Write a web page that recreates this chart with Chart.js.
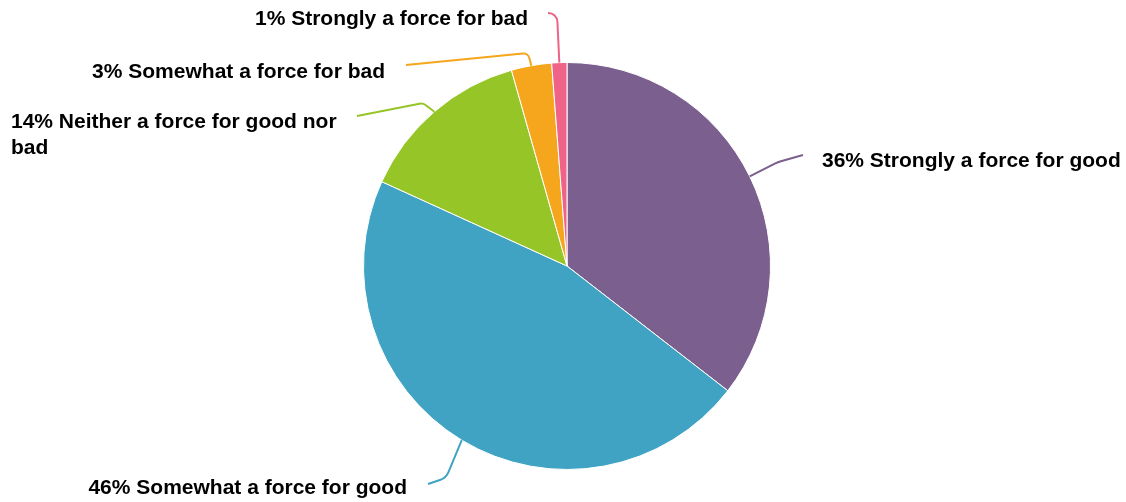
<!DOCTYPE html>
<html>
<head>
<meta charset="utf-8">
<script src="https://cdn.jsdelivr.net/npm/chart.js@4"></script>
<style>
  html, body { margin: 0; padding: 0; background: #fff; }
  #wrap { width: 1126px; height: 502px; }
</style>
</head>
<body>
<div id="wrap"><canvas id="chart"></canvas></div>
<script>
const categories = [
  "Strongly a force for good",
  "Somewhat a force for good",
  "Neither a force for good nor bad",
  "Somewhat a force for bad",
  "Strongly a force for bad"
]
const shares = [35.5, 46.3, 13.8, 3.2, 1.2]
const sliceColors = ["#7b5f8e", "#40a3c3", "#96c527", "#f5a61c", "#ee6387"]

// where each connector bends and ends, and where its text sits
const connectors = [
  { bend: [778, 162], end: [803, 155], r: 30, text: [822, 161], align: "left" },
  { bend: [446, 478], end: [428, 484], r: 14, text: [407, 488], align: "right" },
  { bend: [423, 103], end: [357, 116], r: 8, text: [11, 122], align: "left", lines: ["14% Neither a force for good nor", "bad"] },
  { bend: [528, 53], end: [406, 65], r: 6, text: [385, 72], align: "right" },
  { bend: [557, 13], end: [548, 13], r: 9, text: [528, 19], align: "right" }
]

Chart.defaults.font.family = "'Liberation Sans', Arial, sans-serif"

const labelPlugin = {
  id: "pieLabels",
  afterDatasetsDraw(chart) {
    const c = chart.ctx
    const arcs = chart.getDatasetMeta(0).data
    arcs.forEach((arc, i) => {
      const p = arc.getProps(["x", "y", "startAngle", "endAngle", "outerRadius"], true)
      const mid = (p.startAngle + p.endAngle) / 2
      const ex = p.x + Math.cos(mid) * p.outerRadius
      const ey = p.y + Math.sin(mid) * p.outerRadius
      const cn = connectors[i]
      c.save()
      c.strokeStyle = sliceColors[i]
      c.lineWidth = 2
      c.beginPath()
      c.moveTo(ex, ey)
      c.arcTo(cn.bend[0], cn.bend[1], cn.end[0], cn.end[1], cn.r)
      c.lineTo(cn.end[0], cn.end[1])
      c.stroke()

      c.fillStyle = "#000"
      c.font = "bold 21px 'Liberation Sans', Arial, sans-serif"
      c.textAlign = cn.align
      c.textBaseline = "middle"
      const lines = cn.lines || [Math.round(shares[i]) + "% " + categories[i]]
      lines.forEach((t, k) => c.fillText(t, cn.text[0], cn.text[1] + k * 26))
      c.restore()
    })
  }
}

new Chart(document.getElementById("chart"), {
  type: "pie",
  data: {
    labels: categories,
    datasets: [{
      data: shares,
      backgroundColor: sliceColors,
      borderColor: "#ffffff",
      borderWidth: 1
    }]
  },
  options: {
    responsive: true,
    maintainAspectRatio: false,
    animation: false,
    layout: { padding: { top: 62, bottom: 32, left: 300, right: 292 } },
    plugins: {
      legend: { display: false },
      tooltip: { enabled: false }
    }
  },
  plugins: [labelPlugin]
})
</script>
</body>
</html>
